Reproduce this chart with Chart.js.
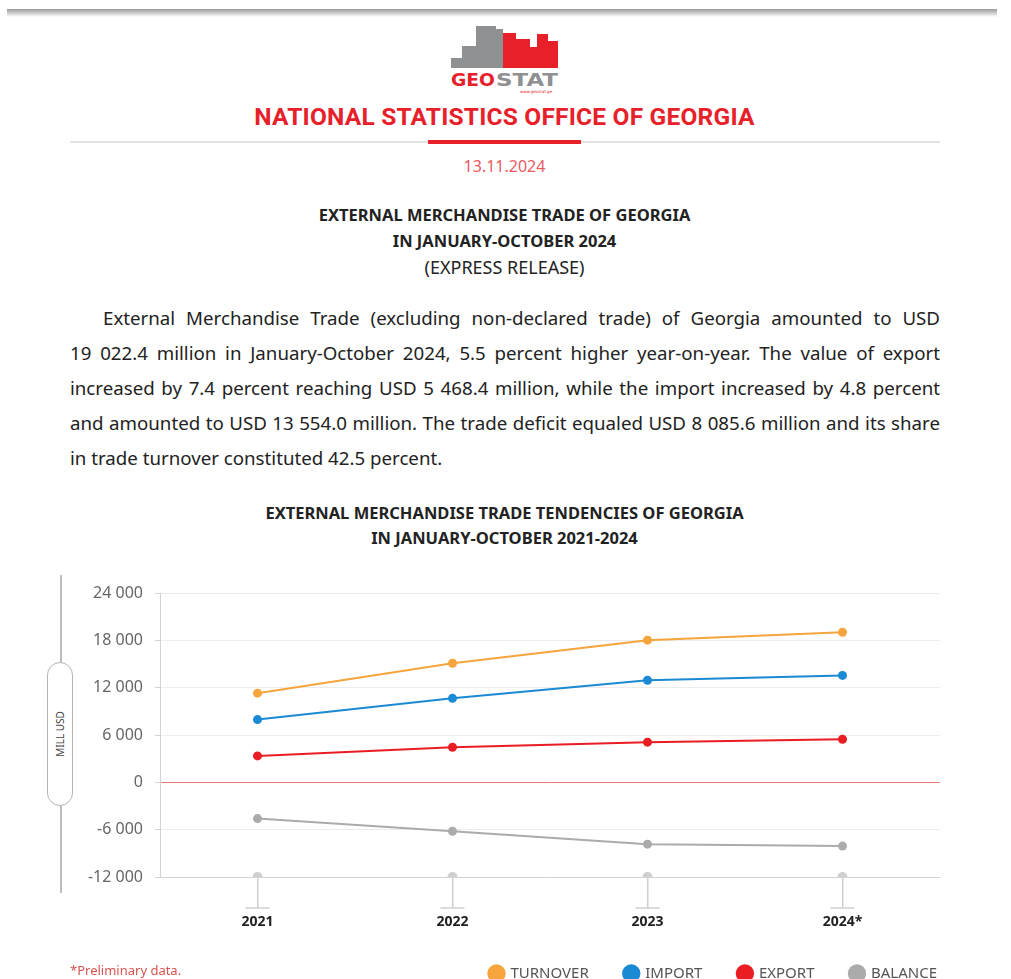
<!DOCTYPE html>
<html>
<head>
<meta charset="utf-8">
<script src="https://cdn.jsdelivr.net/npm/chart.js@4"></script>
<style>
  html, body { margin: 0; padding: 0; background: #fff; overflow: hidden; width: 1011px; height: 979px; }
  body { position: relative; font-family: "Noto Sans", sans-serif; color: #222; }
  .abs { position: absolute; }
  .topbar { left: 7px; top: 9px; width: 990px; height: 8px; background: linear-gradient(#9a9a9a, #fff); }
  .center { left: 0; width: 1009px; text-align: center; white-space: nowrap; }
  .office { top: 102px; font-family: Roboto, sans-serif; font-weight: 700; font-size: 24.5px; color: #e8202a; letter-spacing: 0.2px; }
  .sep { left: 70px; top: 141px; width: 870px; height: 2px; background: #e2e2e2; }
  .sepred { left: 428px; top: 140px; width: 153px; height: 4px; background: #e8202a; }
  .date { top: 155px; font-size: 16px; color: #e95a62; }
  .head { font-weight: 700; font-size: 16.5px; color: #222; }
  .para { left: 70px; width: 870px; font-size: 18.7px; color: #222; }
  .para div { text-align: justify; text-align-last: justify; height: 35px; line-height: 35px; white-space: nowrap; }
  .axisline { left: 60px; top: 575px; width: 1.5px; height: 318px; background: #bdbdbd; }
  .pill { left: 47px; top: 662px; width: 24px; height: 142px; border: 1.5px solid #b5b5b5; border-radius: 13px; background: #fff; }
  .pill span { position: absolute; left: 50%; top: 50%; transform: translate(-50%, -50%) rotate(-90deg); font-size: 10px; color: #444; white-space: nowrap; }
  .note { left: 70px; top: 961px; font-size: 13px; color: #d9534f; }
  #wrap { position: absolute; left: 40px; top: 570px; width: 933px; height: 421px; }
</style>
</head>
<body>
<div class="abs topbar"></div>

<svg class="abs" style="left:448px; top:20px;" width="114" height="76" viewBox="0 0 114 76">
  <path d="M3 48 V38 H14 V26 H28 V6 H48 V9 H55 V48 Z" fill="#8f9092"/>
  <path d="M55 48 V13 H68 V19 H82 V27 H89 V14 H100 V21 H110 V48 Z" fill="#e8202a"/>
  <text x="3" y="66" font-family="DejaVu Sans, sans-serif" font-weight="700" font-size="17" fill="#e8202a" textLength="44" lengthAdjust="spacingAndGlyphs">GEO</text>
  <text x="48" y="66" font-family="DejaVu Sans, sans-serif" font-weight="700" font-size="17" fill="#8f9092" textLength="62" lengthAdjust="spacingAndGlyphs">STAT</text>
  <text x="72" y="73" font-family="DejaVu Sans, sans-serif" font-size="4" fill="#e8202a">www.geostat.ge</text>
</svg>

<div class="abs center office">NATIONAL STATISTICS OFFICE OF GEORGIA</div>
<div class="abs sep"></div>
<div class="abs sepred"></div>
<div class="abs center date">13.11.2024</div>

<div class="abs center head" style="top:203px;">EXTERNAL MERCHANDISE TRADE OF GEORGIA</div>
<div class="abs center head" style="top:229px;">IN JANUARY-OCTOBER 2024</div>
<div class="abs center" style="top:255px; font-size:18px;">(EXPRESS RELEASE)</div>

<div class="abs para" style="top:300px;">
  <div style="margin-left:33px;">External Merchandise Trade (excluding non-declared trade) of Georgia amounted to USD</div>
  <div>19 022.4 million in January-October 2024, 5.5 percent higher year-on-year. The value of export</div>
  <div>increased by 7.4 percent reaching USD 5 468.4 million, while the import increased by 4.8 percent</div>
  <div>and amounted to USD 13 554.0 million. The trade deficit equaled USD 8 085.6 million and its share</div>
  <div style="text-align-last:left;">in trade turnover constituted 42.5 percent.</div>
</div>

<div class="abs center head" style="top:501px;">EXTERNAL MERCHANDISE TRADE TENDENCIES OF GEORGIA</div>
<div class="abs center head" style="top:526px;">IN JANUARY-OCTOBER 2021-2024</div>

<div class="abs axisline"></div>
<div class="abs pill"><span>MILL USD</span></div>

<div id="wrap"><canvas id="tradeChart"></canvas></div>

<div class="abs note">*Preliminary data.</div>

<script>
const years = ['2021', '2022', '2023', '2024*'];
const turnover = [11300, 15100, 18025, 19022.4];
const imports = [7950, 10650, 12933, 13554.0];
const exports = [3350, 4450, 5092, 5468.4];
const balance = [-4600, -6200, -7841, -8085.6];
const axisDots = [-12000, -12000, -12000, -12000];
const yTicks = [-12000, -6000, 0, 6000, 12000, 18000, 24000];

function series(label, data, color) {
    return {
        label: label,
        data: data,
        borderColor: color,
        backgroundColor: color,
        borderWidth: 2,
        pointRadius: 4.5,
        pointHoverRadius: 4.5,
        pointBorderWidth: 0,
        tension: 0
    };
}

// little horizontal caps at the end of each x tick
const tickCaps = {
    id: 'tickCaps',
    afterDraw(chart) {
        const ctx = chart.ctx;
        const xs = chart.scales.x;
        const y = chart.chartArea.bottom + 31;
        ctx.save();
        ctx.strokeStyle = '#cfcfcf';
        ctx.lineWidth = 1.5;
        xs.ticks.forEach((t, i) => {
            const x = xs.getPixelForTick(i);
            ctx.beginPath();
            ctx.moveTo(x - 12, y);
            ctx.lineTo(x + 12, y);
            ctx.stroke();
        });
        ctx.restore();
    }
};

const ctx = document.getElementById('tradeChart').getContext('2d');
let tradeChart = new Chart(ctx, {
    type: 'line',
    data: {
        labels: years,
        datasets: [
            series('TURNOVER', turnover, '#f6a43c'),
            series('IMPORT', imports, '#1a8ad4'),
            series('EXPORT', exports, '#ea1c24'),
            series('BALANCE', balance, '#ababab'),
            {
                label: 'axis',
                data: axisDots,
                showLine: false,
                pointRadius: 5,
                pointBorderWidth: 0,
                backgroundColor: '#cfcfcf',
                borderColor: '#cfcfcf'
            }
        ]
    },
    options: {
        responsive: true,
        maintainAspectRatio: false,
        animation: false,
        layout: { padding: { top: 23, right: 0, left: 0, bottom: 0 } },
        scales: {
            x: {
                offset: true,
                grid: { drawOnChartArea: false, tickLength: 31, color: '#cfcfcf', lineWidth: 1.5 },
                border: { display: false },
                ticks: { color: '#222', padding: 6, font: { family: 'Noto Sans', size: 14, weight: 'bold' } },
                afterFit: (s) => { s.height = 53; }
            },
            y: {
                min: -12000,
                max: 24000,
                afterBuildTicks: (s) => { s.ticks = yTicks.map(v => ({ value: v })); },
                grid: {
                    tickLength: 5,
                    color: (c) => c.tick.value === 0 ? '#e57b7b' : (c.tick.value === -12000 ? '#d4d4d4' : '#ececec'),
                    tickColor: '#d4d4d4'
                },
                border: { display: true, color: '#d4d4d4' },
                ticks: {
                    color: '#666',
                    padding: 12,
                    font: { family: 'Noto Sans', size: 16 },
                    callback: (v) => v.toLocaleString('en-US').replace(/,/g, ' ')
                },
                afterFit: (s) => { s.width = 120; }
            },
            // empty right gutter so the legend can reach further right than the plot
            gutter: {
                position: 'right',
                display: true,
                grid: { display: false },
                border: { display: false },
                ticks: { display: false },
                afterFit: (s) => { s.width = 33; }
            }
        },
        plugins: {
            tooltip: { enabled: false },
            legend: {
                position: 'bottom',
                align: 'end',
                labels: {
                    usePointStyle: true,
                    pointStyle: 'circle',
                    boxWidth: 13,
                    boxHeight: 13,
                    padding: 36,
                    color: '#555',
                    font: { family: 'Noto Sans', size: 15 },
                    filter: (item) => item.datasetIndex < 4
                }
            }
        }
    },
    plugins: [tickCaps]
});
</script>
</body>
</html>
